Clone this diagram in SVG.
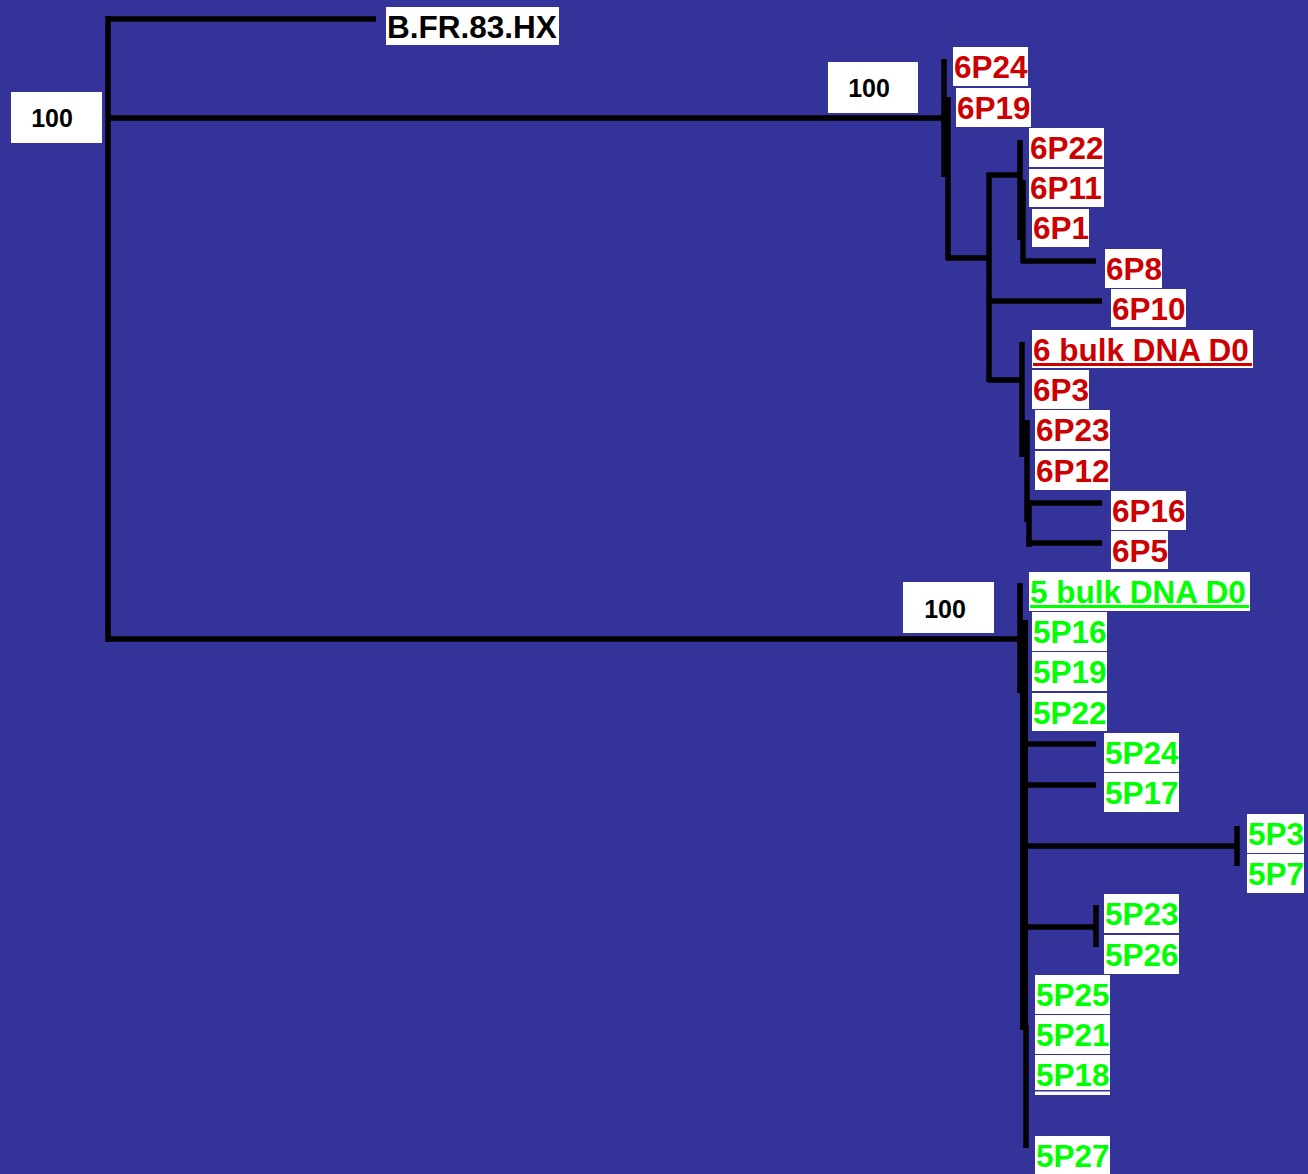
<svg xmlns="http://www.w3.org/2000/svg" width="1308" height="1174" viewBox="0 0 1308 1174">
<style>
.b{fill:#ffffff}
.t{font-family:"Liberation Sans",Arial,sans-serif;font-weight:bold;font-size:31.5px}
.r{fill:#cc0000}
.g{fill:#00ff00}
.k{fill:#000000}
.n{font-family:"Liberation Sans",Arial,sans-serif;font-weight:bold;font-size:25px;fill:#000;text-anchor:middle}
#edges line{stroke:#000;stroke-width:5.5}
</style>
<rect width="1308" height="1174" fill="#333399"/>
<g id="edges">
<line x1="108" y1="16" x2="108" y2="642"/>
<line x1="106" y1="19" x2="376" y2="19"/>
<line x1="106" y1="118" x2="946" y2="118"/>
<line x1="106" y1="639" x2="1022" y2="639"/>
<line x1="944" y1="59" x2="944" y2="177"/>
<line x1="948" y1="97" x2="948" y2="260"/>
<line x1="946" y1="258" x2="991" y2="258"/>
<line x1="989" y1="173" x2="989" y2="382"/>
<line x1="987" y1="175" x2="1022" y2="175"/>
<line x1="1020" y1="140" x2="1020" y2="240"/>
<line x1="1023" y1="180" x2="1023" y2="263"/>
<line x1="1021" y1="261" x2="1096" y2="261"/>
<line x1="988" y1="301" x2="1102" y2="301"/>
<line x1="988" y1="380" x2="1024" y2="380"/>
<line x1="1022" y1="342" x2="1022" y2="457"/>
<line x1="1027" y1="420" x2="1027" y2="522"/>
<line x1="1029" y1="500" x2="1029" y2="547"/>
<line x1="1027" y1="503" x2="1102" y2="503"/>
<line x1="1027" y1="543" x2="1102" y2="543"/>
<line x1="1020" y1="583" x2="1020" y2="693"/>
<line x1="1024" y1="620" x2="1024" y2="1030" style="stroke-width:8"/>
<line x1="1026" y1="1025" x2="1026" y2="1148"/>
<line x1="1025" y1="744" x2="1096" y2="744"/>
<line x1="1025" y1="785" x2="1096" y2="785"/>
<line x1="1025" y1="846" x2="1238" y2="846"/>
<line x1="1237" y1="826" x2="1237" y2="866"/>
<line x1="1025" y1="927" x2="1096" y2="927"/>
<line x1="1096" y1="905" x2="1096" y2="947"/>
</g>
<g id="bs1"><rect class="b" x="11" y="92" width="91" height="51"/><text class="n" x="52" y="127">100</text></g>
<g id="bs2"><rect class="b" x="828" y="62" width="90" height="51"/><text class="n" x="869" y="97">100</text></g>
<g id="bs3"><rect class="b" x="903" y="582" width="91" height="51"/><text class="n" x="945" y="618">100</text></g>
<g id="BFR"><rect class="b" x="386" y="7" width="173" height="38"/><text class="t k" x="387" y="38">B.FR.83.HX</text></g>
<g id="n6P24"><rect class="b" x="953" y="47" width="75" height="39"/><text class="t r" x="954" y="78">6P24</text></g>
<g id="n6P19"><rect class="b" x="956" y="88" width="75" height="39"/><text class="t r" x="957" y="119">6P19</text></g>
<g id="n6P22"><rect class="b" x="1029" y="128" width="75" height="39"/><text class="t r" x="1030" y="159">6P22</text></g>
<g id="n6P11"><rect class="b" x="1029" y="169" width="75" height="38"/><text class="t r" x="1030" y="199">6P11</text></g>
<g id="n6P1"><rect class="b" x="1032" y="209" width="57" height="38"/><text class="t r" x="1033" y="239">6P1</text></g>
<g id="n6P8"><rect class="b" x="1105" y="249" width="57" height="39"/><text class="t r" x="1106" y="280">6P8</text></g>
<g id="n6P10"><rect class="b" x="1111" y="289" width="75" height="38"/><text class="t r" x="1112" y="320">6P10</text></g>
<g id="n6bulk"><rect class="b" x="1032" y="330" width="221" height="38"/><text class="t r" x="1033" y="361">6 bulk DNA D0</text><rect class="r" x="1033" y="363" width="219" height="3"/></g>
<g id="n6P3"><rect class="b" x="1032" y="370" width="57" height="39"/><text class="t r" x="1033" y="401">6P3</text></g>
<g id="n6P23"><rect class="b" x="1035" y="410" width="75" height="39"/><text class="t r" x="1036" y="441">6P23</text></g>
<g id="n6P12"><rect class="b" x="1035" y="451" width="75" height="39"/><text class="t r" x="1036" y="482">6P12</text></g>
<g id="n6P16"><rect class="b" x="1111" y="491" width="75" height="39"/><text class="t r" x="1112" y="522">6P16</text></g>
<g id="n6P5"><rect class="b" x="1111" y="531" width="57" height="38"/><text class="t r" x="1112" y="562">6P5</text></g>
<g id="n5bulk"><rect class="b" x="1029" y="572" width="221" height="39"/><text class="t g" x="1030" y="603">5 bulk DNA D0</text><rect class="g" x="1030" y="605" width="219" height="3"/></g>
<g id="n5P16"><rect class="b" x="1032" y="612" width="75" height="39"/><text class="t g" x="1033" y="643">5P16</text></g>
<g id="n5P19"><rect class="b" x="1032" y="652" width="75" height="39"/><text class="t g" x="1033" y="683">5P19</text></g>
<g id="n5P22"><rect class="b" x="1032" y="693" width="75" height="38"/><text class="t g" x="1033" y="724">5P22</text></g>
<g id="n5P24"><rect class="b" x="1104" y="733" width="75" height="39"/><text class="t g" x="1105" y="764">5P24</text></g>
<g id="n5P17"><rect class="b" x="1104" y="773" width="75" height="39"/><text class="t g" x="1105" y="804">5P17</text></g>
<g id="n5P3"><rect class="b" x="1247" y="814" width="57" height="39"/><text class="t g" x="1248" y="845">5P3</text></g>
<g id="n5P7"><rect class="b" x="1247" y="854" width="57" height="39"/><text class="t g" x="1248" y="885">5P7</text></g>
<g id="n5P23"><rect class="b" x="1104" y="894" width="75" height="39"/><text class="t g" x="1105" y="925">5P23</text></g>
<g id="n5P26"><rect class="b" x="1104" y="935" width="75" height="39"/><text class="t g" x="1105" y="966">5P26</text></g>
<g id="n5P25"><rect class="b" x="1035" y="975" width="75" height="39"/><text class="t g" x="1036" y="1006">5P25</text></g>
<g id="n5P21"><rect class="b" x="1035" y="1015" width="75" height="39"/><text class="t g" x="1036" y="1046">5P21</text></g>
<g id="n5P18"><rect class="b" x="1035" y="1055" width="75" height="40"/><rect x="1035" y="1090" width="75" height="1.5" fill="#333399"/><text class="t g" x="1036" y="1086">5P18</text></g>
<g id="n5P27"><rect class="b" x="1035" y="1136" width="75" height="38"/><text class="t g" x="1036" y="1167">5P27</text></g>
</svg>
